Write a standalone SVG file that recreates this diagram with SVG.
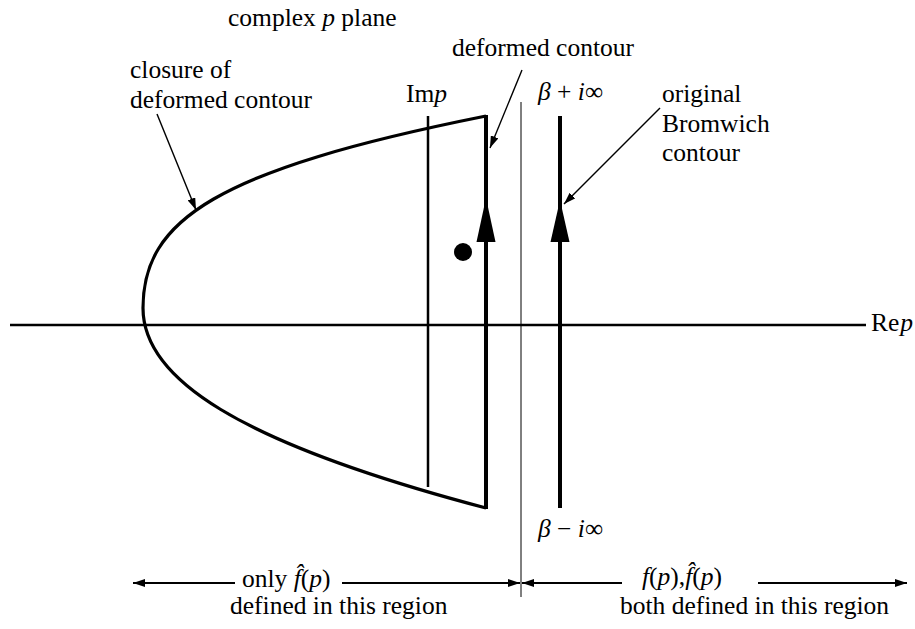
<svg xmlns="http://www.w3.org/2000/svg" width="915" height="629" viewBox="0 0 915 629">
<style>
text{font-family:"Liberation Serif","Times New Roman",serif;font-size:25.5px;fill:#000}
.it{font-style:italic}
.thin{stroke:#000;stroke-width:1.4;fill:none}
.ax{stroke:#000;stroke-width:2.5;fill:none}
.thick{stroke:#000;stroke-width:4;fill:none}
</style>
<defs>
<marker id="ah" viewBox="0 0 12 8" refX="12" refY="4" markerWidth="12" markerHeight="8" markerUnits="userSpaceOnUse" orient="auto">
<path d="M0,0 L12,4 L0,8 z" fill="#000"/>
</marker>
</defs>
<rect width="915" height="629" fill="#fff"/>

<g id="axes">
<line class="ax" x1="10" y1="325" x2="866" y2="325"/>
<line class="ax" x1="428" y1="116" x2="428" y2="487"/>
<line stroke="#000" stroke-width="1" x1="521" y1="102" x2="521" y2="597"/>
<text x="871" y="331" font-size="17">Re<tspan class="it" dx="1">p</tspan></text>
<text x="406" y="102">Im<tspan class="it">p</tspan></text>
</g>

<g id="deformed-contour">
<path d="M486,116 C216,170 143,220 143,308 C143,378 236,442 486,508" stroke="#000" stroke-width="3.2" fill="none"/>
<line class="thick" x1="486" y1="509" x2="486" y2="115"/>
<polygon points="486,198 476.5,242 495.5,242" fill="#000"/>
</g>

<g id="bromwich">
<line class="thick" x1="560" y1="116" x2="560" y2="508"/>
<polygon points="560,200 550.5,242 569.5,242" fill="#000"/>
<text x="538" y="100"><tspan class="it">β</tspan> + <tspan class="it">i</tspan>∞</text>
<text x="538" y="537"><tspan class="it">β</tspan> − <tspan class="it">i</tspan>∞</text>
</g>

<g id="pole">
<circle cx="463" cy="252" r="9" fill="#000"/>
</g>

<g id="labels">
<text x="228" y="26">complex <tspan class="it">p</tspan> plane</text>
<text x="130" y="78">closure of</text>
<text x="130" y="108">deformed contour</text>
<text x="452" y="56">deformed contour</text>
<text x="662" y="102">original</text>
<text x="662" y="132">Bromwich</text>
<text x="662" y="161">contour</text>
<text x="242" y="587">only <tspan class="it">f&#x302;</tspan>(<tspan class="it">p</tspan>)</text>
<text x="230" y="614">defined in this region</text>
<text x="642" y="585"><tspan class="it">f</tspan>(<tspan class="it">p</tspan>),<tspan class="it">f&#x302;</tspan>(<tspan class="it">p</tspan>)</text>
<text x="620" y="614">both defined in this region</text>
</g>

<g id="connectors">
<line class="thin" x1="157" y1="114" x2="196" y2="210" marker-end="url(#ah)"/>
<line class="thin" x1="522" y1="70" x2="490" y2="148" marker-end="url(#ah)"/>
<line class="thin" x1="660" y1="108" x2="564" y2="204" marker-end="url(#ah)"/>
<line stroke="#000" stroke-width="2" x1="235" y1="583" x2="133" y2="583" marker-end="url(#ah)"/>
<line stroke="#000" stroke-width="2" x1="342" y1="583" x2="520" y2="583" marker-end="url(#ah)"/>
<line stroke="#000" stroke-width="2" x1="622" y1="583" x2="522" y2="583" marker-end="url(#ah)"/>
<line stroke="#000" stroke-width="2" x1="758" y1="583" x2="907" y2="583" marker-end="url(#ah)"/>
</g>
</svg>
